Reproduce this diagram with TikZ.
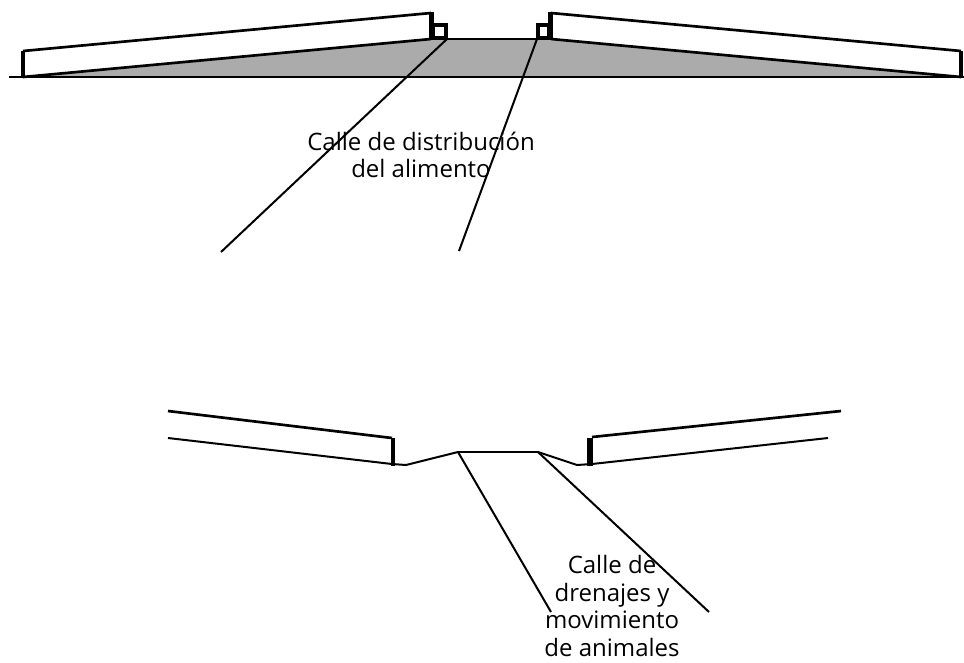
\documentclass[tikz,border=0pt]{standalone}
\usepackage{fontspec}
\setmainfont{Open Sans}
\begin{document}
\begin{tikzpicture}[
        x=0.75pt, y=-0.75pt,
        roof/.style={line width=2pt, draw=black},
        wall/.style={line width=4.2pt, draw=black, line cap=butt},
        thin line/.style={line width=1.5pt, draw=black},
        leader/.style={line width=1.5pt, draw=black},
        curb/.style={line width=2.8pt, draw=black, fill=white},
        label/.style={align=center, font=\fontsize{18}{20.8}\selectfont, inner sep=0pt}
    ]
        \useasboundingbox (0, 0) rectangle (964, 662);

        % upper section
        \coordinate (t_wl_a) at (23, 51);
        \coordinate (t_wl_b) at (23, 77);
        \coordinate (t_in_a) at (431, 13);
        \coordinate (t_in_b) at (431, 39);
        \coordinate (t_in_c) at (551, 13);
        \coordinate (t_in_d) at (551, 39);
        \coordinate (t_wr_a) at (961, 51);
        \coordinate (t_wr_b) at (961, 77);
        \coordinate (t_ca) at (447, 39);
        \coordinate (t_cb) at (537, 39);
        \coordinate (t_la) at (221, 252);
        \coordinate (t_lb) at (459, 251);
        \coordinate (g_a) at (9, 77);
        \coordinate (g_b) at (964, 77);

        \fill[black!33] (t_wl_b) -- (t_in_b) -- (t_in_d) -- (t_wr_b) -- cycle;
        \draw[thin line] (t_in_b) -- (t_in_d);
        \draw[thin line] (g_a) -- (g_b);
        \draw[roof] (t_wl_a) -- (t_in_a);
        \draw[roof] (t_wl_b) -- (t_in_b);
        \draw[roof] (t_in_c) -- (t_wr_a);
        \draw[roof] (t_in_d) -- (t_wr_b);
        \draw[curb] (433, 25) rectangle (446, 38);
        \draw[curb] (538, 25) rectangle (549, 38);
        \draw[wall] (431.5, 12) -- (431.5, 39);
        \draw[wall] (550.5, 12) -- (550.5, 39);
        \draw[wall, line width=3pt] (t_wl_a) -- (t_wl_b);
        \draw[wall, line width=3pt] (t_wr_a) -- (t_wr_b);

        \node[label] (t_label) at (421, 155) {Calle de distribución\\del alimento};
        \draw[leader] (t_ca) -- (t_la);
        \draw[leader] (t_cb) -- (t_lb);

        % lower section
        \coordinate (b_l_a) at (168, 411);
        \coordinate (b_l_b) at (392, 438);
        \coordinate (b_l_c) at (168, 438);
        \coordinate (b_l_d) at (392, 464);
        \coordinate (b_s_a) at (406, 465);
        \coordinate (b_ca) at (458, 452);
        \coordinate (b_cb) at (538, 452);
        \coordinate (b_s_b) at (577, 465);
        \coordinate (b_r_d) at (592, 464);
        \coordinate (b_r_b) at (592, 437);
        \coordinate (b_r_a) at (841, 411);
        \coordinate (b_r_c) at (828, 438);
        \coordinate (b_la) at (551, 612);
        \coordinate (b_lb) at (709, 612);

        \draw[roof] (b_l_a) -- (b_l_b);
        \draw[thin line] (b_l_c) -- (b_l_d) -- (b_s_a) -- (b_ca);
        \draw[roof] (b_ca) -- (b_cb);
        \draw[thin line] (b_cb) -- (b_s_b) -- (b_r_d) -- (b_r_c);
        \draw[roof] (b_r_b) -- (b_r_a);
        \draw[wall, line width=3pt] (393, 438) -- (393, 466);
        \draw[wall] (590, 438) -- (590, 466);

        \node[label] (b_label) at (612, 606) {Calle de\\drenajes y\\movimiento\\de animales};
        \draw[leader] (b_ca) -- (b_la);
        \draw[leader] (b_cb) -- (b_lb);
    \end{tikzpicture}
\end{document}
